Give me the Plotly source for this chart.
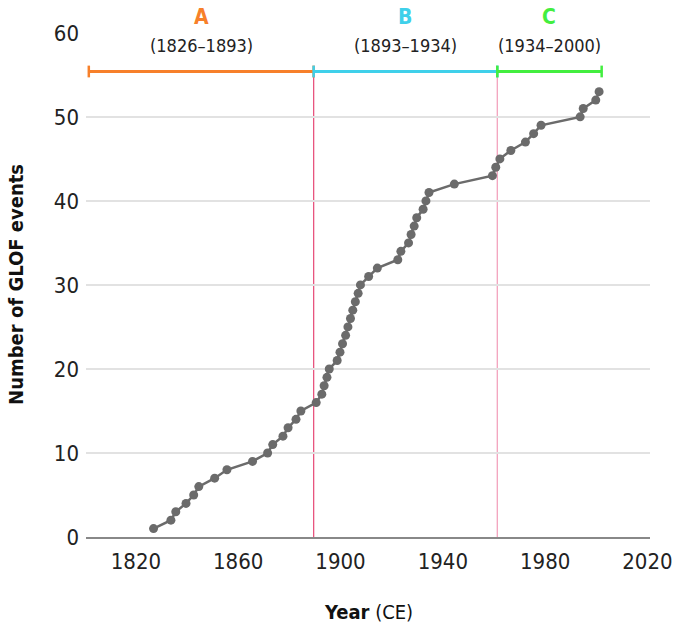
import plotly.graph_objects as go

# cumulative GLOF events (year of event, cumulative count)
years = [1826.9, 1833.7, 1835.6, 1839.6, 1842.6, 1844.6, 1850.8, 1855.6, 1865.6, 1871.5,
         1873.5, 1877.5, 1879.5, 1882.6, 1884.5, 1890.5, 1892.7, 1893.6, 1894.7, 1895.6,
         1898.7, 1899.8, 1900.8, 1902.0, 1902.9, 1903.9, 1904.8, 1905.8, 1906.9, 1907.8,
         1911.0, 1914.4, 1922.4, 1923.6, 1926.6, 1927.6, 1928.8, 1929.8, 1932.3, 1933.4,
         1934.6, 1944.5, 1959.4, 1960.7, 1962.3, 1966.6, 1972.3, 1975.5, 1978.4, 1993.7,
         1994.9, 1999.8, 2001.1]
counts = list(range(1, len(years) + 1))

period_names = ["A", "B", "C"]
period_labels = ["(1826–1893)", "(1893–1934)", "(1934–2000)"]
period_start = [1801.6, 1889.5, 1961.3]
period_end = [1889.5, 1961.3, 2002.1]
period_colors = ["#f7802a", "#3fd0ea", "#43ee3f"]
boundary_years = [1889.5, 1961.3]
boundary_colors = ["#e8557f", "#f3a3bd"]
bar_level = 55.4
label_level = 58.47

x_ticks = [1820, 1860, 1900, 1940, 1980, 2020]
y_ticks = [0, 10, 20, 30, 40, 50, 60]

FONT = "DejaVu Sans Condensed, Liberation Sans Narrow, sans-serif"

FIG_W = 685
PLOT_W = 575
PLOT_H = 506
LEFT = 86

fig = go.Figure()
fig.add_trace(go.Scatter(
    x=years, y=counts, mode="lines+markers",
    line=dict(color="#6b6b6b", width=2.5),
    marker=dict(color="#6b6b6b", size=9),
    showlegend=False, hoverinfo="x+y"))

shapes = []
for xb, c in zip(boundary_years, boundary_colors):
    shapes.append(dict(type="line", xref="x", yref="y", x0=xb, x1=xb, y0=0, y1=bar_level,
                       line=dict(color=c, width=1.3), layer="below"))
annotations = []
for name, lab, s, e, c in zip(period_names, period_labels, period_start, period_end, period_colors):
    shapes.append(dict(type="line", xref="x", yref="y", x0=s, x1=e, y0=bar_level, y1=bar_level,
                       line=dict(color=c, width=3)))
    for xe in (s, e):
        shapes.append(dict(type="line", xref="x", yref="y", x0=xe, x1=xe,
                           y0=bar_level - 0.7, y1=bar_level + 0.7,
                           line=dict(color=c, width=2.5)))
    mid = (s + e) / 2
    annotations.append(dict(x=mid, y=1 + 14.8 / PLOT_H, xref="x", yref="paper",
                            text="<b>%s</b>" % name, yanchor="middle", xanchor="center",
                            showarrow=False, font=dict(family=FONT, size=21, color=c)))
    annotations.append(dict(x=mid, y=label_level, xref="x", yref="y", text=lab,
                            yanchor="middle", xanchor="center",
                            showarrow=False, font=dict(family=FONT, size=18, color="#222222")))

annotations.append(dict(x=-72 / PLOT_W, y=0.5, xref="paper", yref="paper",
                        xanchor="center", yanchor="middle",
                        text="<b>Number of GLOF events</b>", textangle=-90, showarrow=False,
                        font=dict(family=FONT, size=20, color="#111111")))
annotations.append(dict(x=0.5, y=-74.7 / PLOT_H, xref="paper", yref="paper",
                        xanchor="center", yanchor="middle",
                        text="<b>Year</b> (CE)", showarrow=False,
                        font=dict(family=FONT, size=20, color="#111111")))

fig.update_layout(
    width=FIG_W, height=631, autosize=False,
    margin=dict(l=LEFT, r=FIG_W - LEFT - PLOT_W, t=31.5, b=631 - 31.5 - PLOT_H),
    paper_bgcolor="white", plot_bgcolor="white",
    font=dict(family=FONT, size=22, color="#222222"),
    shapes=shapes, annotations=annotations,
    xaxis=dict(range=[1800.5, 2021], tickvals=x_ticks, ticktext=[str(v) for v in x_ticks],
               showgrid=False, zeroline=False, showline=True, linecolor="#888888", linewidth=1.5,
               ticks="", ticklabeloverflow="allow", ticklabelstandoff=4,
               tickfont=dict(family=FONT, size=22, color="#222222")),
    yaxis=dict(range=[0, 60.1], tickvals=y_ticks, showgrid=True, gridcolor="#e2e2e2",
               gridwidth=1.5, zeroline=False, showline=False, ticks="", ticklabelstandoff=6,
               tickfont=dict(family=FONT, size=22, color="#222222")),
)

fig.write_html("out.html",
               config={"responsive": False, "displayModeBar": False},
               post_script="document.body.style.margin='0';document.body.style.overflow='hidden';")
